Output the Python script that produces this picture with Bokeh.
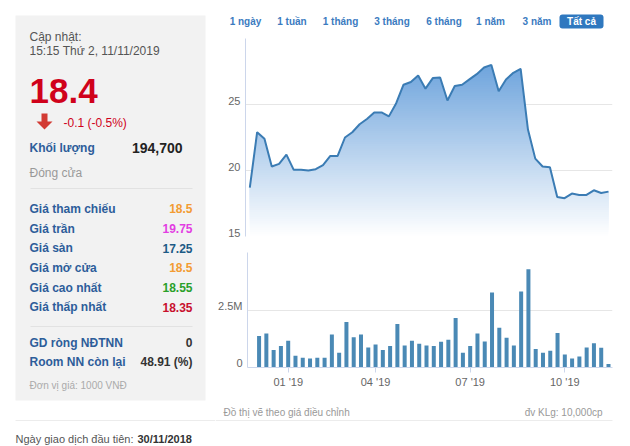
import numpy as np
from bokeh.plotting import figure
from bokeh.layouts import row, column
from bokeh.models import Range1d, FixedTicker, LinearAxis
from bokeh.embed import file_html
from bokeh.resources import INLINE
from bokeh.core.properties import value

FONT = "Liberation Sans"

# ---------------- data ----------------
weeks = list(range(50))
price = [18.7, 22.9, 22.4, 20.3, 20.5, 21.2, 20.05, 20.05, 20.0, 20.1,
         20.4, 21.1, 21.1, 22.5, 22.9, 23.5, 23.9, 24.4, 24.4, 24.1,
         25.1, 26.5, 26.7, 27.2, 26.2, 27.0, 27.05, 25.3, 26.4, 26.5,
         26.9, 27.3, 27.8, 28.0, 26.0, 26.9, 27.4, 27.7, 23.1, 20.9,
         20.3, 20.25, 18.0, 17.9, 18.25, 18.15, 18.15, 18.5, 18.3, 18.4]
volume = [0, 1370000, 1480000, 760000, 930000, 1160000, 510000, 420000, 390000, 420000,
          420000, 1440000, 640000, 1980000, 1320000, 1440000, 870000, 1000000, 760000, 930000,
          1890000, 960000, 1160000, 1030000, 960000, 930000, 1120000, 1210000, 2150000, 640000,
          930000, 1480000, 1130000, 3260000, 1730000, 1290000, 960000, 3300000, 4270000, 800000,
          640000, 730000, 1500000, 570000, 390000, 480000, 870000, 1050000, 860000, 150000]

x_tick_pos = [5, 17, 30, 43]
x_tick_labels = ["01 '19", "04 '19", "07 '19", "10 '19"]
price_ticks = [15, 20, 25, 30]
price_tick_labels = ["15", "20", "25", ""]
vol_ticks = [0, 2500000, 5000000]
vol_tick_labels = ["0", "2.5M", ""]

range_buttons = ["1 ngày", "1 tuần", "1 tháng", "3 tháng", "6 tháng", "1 năm", "3 năm", "Tất cả"]
stat_labels = ["Giá tham chiếu", "Giá trần", "Giá sàn", "Giá mở cửa", "Giá cao nhất", "Giá thấp nhất"]
stat_values = ["18.5", "19.75", "17.25", "18.5", "18.55", "18.35"]
foreign_labels = ["GD ròng NĐTNN", "Room NN còn lại"]
foreign_values = ["0", "48.91 (%)"]

# ---------------- styles ----------------
stat_colors = ["#f39c33", "#e23ee2", "#1d5b86", "#f39c33", "#2aa02a", "#c8102e"]
LABEL_BLUE = "#2d5d9a"
RED = "#d0021b"
AXIS_C = "#ccd6eb"
GRID_C = "#e6e6e6"


def canvas(w, h, x0, y0):
    f = figure(width=w, height=h, x_range=Range1d(x0, x0 + w), y_range=Range1d(y0 + h, y0),
               x_axis_type=None, y_axis_type=None, output_backend="svg",
               toolbar_location=None, min_border=0, frame_align=False)
    f.grid.visible = False
    f.outline_line_color = None
    f.background_fill_color = "white"
    return f


def txt(f, x, y, t, size="12px", color="#333", align="left", style="normal"):
    f.text(x=x, y=y, text=t, text_font=value(FONT), text_font_size=size,
           text_color=color, text_align=align, text_baseline="middle",
           text_font_style=style)


def style_axis(ax):
    ax.axis_line_color = AXIS_C
    ax.minor_tick_line_color = None
    ax.major_label_text_font = FONT
    ax.major_label_text_font_size = "11px"
    ax.major_label_text_color = "#666666"


def hide_axis(ax):
    # axis kept only to drive the horizontal grid lines
    ax.axis_line_color = None
    ax.major_tick_line_color = None
    ax.minor_tick_line_color = None
    ax.major_tick_out = 0
    ax.major_tick_in = 0
    ax.major_label_standoff = 0
    ax.major_label_text_font_size = "0px"
    ax.major_label_text_color = None


def clip_above(poly, a):
    """Sutherland-Hodgman clip of a polygon to the half plane y >= a."""
    out = []
    n = len(poly)
    for i in range(n):
        cx, cy = poly[i]
        px, py = poly[i - 1]
        c_in, p_in = cy >= a, py >= a
        if c_in != p_in:
            out.append((px + (a - py) * (cx - px) / (cy - py), a))
        if c_in:
            out.append((cx, cy))
    return out


# ---------------- left panel ----------------
left = canvas(215, 446, 0, 0)
left.quad(left=15, right=205, top=15, bottom=400, fill_color="#f2f2f2", line_color=None)
txt(left, [29], [36], ["Cập nhật:"], color="#555")
txt(left, [29], [50], ["15:15 Thứ 2, 11/11/2019"], color="#555")
txt(left, [29], [90], ["18.4"], size="35px", color=RED, style="bold")
left.patch(x=[41, 47, 47, 52, 44, 36, 41], y=[113, 113, 121, 121, 129, 121, 121],
           fill_color="#d23a33", line_color=None)
txt(left, [63], [122], ["-0.1 (-0.5%)"], color=RED)
txt(left, [29], [147], ["Khối lượng"], color=LABEL_BLUE, style="bold")
txt(left, [182], [147], ["194,700"], size="14px", color="#222", align="right", style="bold")
txt(left, [29], [172], ["Đóng cửa"], color="#999")
left.segment(x0=[30, 30], y0=[188, 326], x1=[192, 192], y1=[188, 326], line_color="#e2e2e2")
row_y = [208.3 + 19.7 * i for i in range(len(stat_labels))]
txt(left, [29] * len(stat_labels), row_y, stat_labels, color=LABEL_BLUE, style="bold")
for yy, v, c in zip(row_y, stat_values, stat_colors):
    txt(left, [192], [yy], [v], color=c, align="right", style="bold")
txt(left, [29, 29], [342, 361], foreign_labels, color=LABEL_BLUE, style="bold")
txt(left, [192, 192], [342, 361], foreign_values, color="#333", align="right", style="bold")
txt(left, [29], [385], ["Đơn vị giá: 1000 VNĐ"], size="10px", color="#aaa")
left.segment(x0=[15], y0=[420], x1=[215], y1=[420], line_color="#ececec")
txt(left, [15], [438], ["Ngày giao dịch đầu tiên: "], size="11px", color="#555")
txt(left, [137], [438], ["30/11/2018"], size="11px", color="#333", style="bold")

# ---------------- range buttons ----------------
btn = canvas(415, 33, 215, 0)
btn_x = [245, 291.5, 340, 391.5, 443.5, 490, 536.5, 581]
btn.rect(x=[581], y=[21], width=44, height=14, fill_color="#2f78bf", line_color=None,
         border_radius=3)
txt(btn, btn_x[:-1], [21] * 7, range_buttons[:-1], size="10px", color="#3b7bbf",
    align="center", style="bold")
txt(btn, [btn_x[-1]], [21], [range_buttons[-1]], size="10px", color="white",
    align="center", style="bold")

# ---------------- price chart ----------------
XR = (-0.59, 49.55)
P_LO, P_HI = 15, 30
p_shift = 4.0 / 198 * (P_HI - P_LO)      # tick labels sit a few px above their grid line
pf = figure(width=415, height=207, x_range=Range1d(*XR), y_range=Range1d(P_LO, P_HI),
            x_axis_location=None, y_axis_location="right", output_backend="svg",
            toolbar_location=None, frame_align=False,
            min_border_left=30, min_border_right=18, min_border_top=5, min_border_bottom=4)
pf.outline_line_color = None
pf.xgrid.visible = False
pf.yaxis.ticker = FixedTicker(ticks=price_ticks)
hide_axis(pf.yaxis[0])
pf.ygrid.grid_line_color = GRID_C
pf.ygrid.ticker = FixedTicker(ticks=price_ticks)
pf.extra_y_ranges = {"lbl": Range1d(P_LO - p_shift, P_HI - p_shift)}
p_axis = LinearAxis(y_range_name="lbl", ticker=FixedTicker(ticks=price_ticks),
                    major_label_overrides=dict(zip(price_ticks, price_tick_labels)),
                    major_tick_out=0, major_tick_in=0, major_tick_line_color=None,
                    major_label_standoff=5)
style_axis(p_axis)
pf.add_layout(p_axis, "left")

# vertical gradient fill under the price line: stacked clipped copies of the area
area_poly = [(weeks[0], P_LO)] + list(zip(weeks, price)) + [(weeks[-1], P_LO)]
c_top = np.array([88, 150, 215])
c_bot = np.array([255, 255, 255])
N_BANDS = 90
xs, ys, cols = [], [], []
for k in range(N_BANDS):
    a = P_LO + (P_HI - P_LO) * k / N_BANDS
    poly = clip_above(area_poly, a)
    if len(poly) < 3:
        continue
    tt = (k + 0.5) / N_BANDS
    c = (c_bot + (c_top - c_bot) * tt).round().astype(int)
    xs.append([q[0] for q in poly])
    ys.append([q[1] for q in poly])
    cols.append("#%02x%02x%02x" % tuple(c))
pf.patches(xs=xs, ys=ys, fill_color=cols, line_color=None)
pf.line(weeks, price, line_color="#3b7cb4", line_width=2)

# ---------------- volume chart ----------------
V_LO, V_HI = 0, 5000000
v_shift = 4.5 / 115 * (V_HI - V_LO)
vf = figure(width=415, height=155, x_range=Range1d(*XR), y_range=Range1d(V_LO, V_HI),
            y_axis_location="right", output_backend="svg", toolbar_location=None,
            frame_align=False,
            min_border_left=30, min_border_right=18, min_border_top=12, min_border_bottom=28)
vf.outline_line_color = None
vf.xgrid.visible = False
vf.yaxis.ticker = FixedTicker(ticks=vol_ticks)
hide_axis(vf.yaxis[0])
vf.ygrid.grid_line_color = GRID_C
vf.ygrid.ticker = FixedTicker(ticks=vol_ticks)
vf.extra_y_ranges = {"lbl": Range1d(V_LO - v_shift, V_HI - v_shift)}
v_axis = LinearAxis(y_range_name="lbl", ticker=FixedTicker(ticks=vol_ticks),
                    major_label_overrides=dict(zip(vol_ticks, vol_tick_labels)),
                    major_tick_out=0, major_tick_in=0, major_tick_line_color=None,
                    major_label_standoff=5)
style_axis(v_axis)
vf.add_layout(v_axis, "left")
vf.vbar(x=weeks, top=volume, width=0.55, fill_color="#4a89b5", line_color=None)
vf.xaxis.ticker = FixedTicker(ticks=x_tick_pos)
vf.xaxis.major_label_overrides = dict(zip(x_tick_pos, x_tick_labels))
vf.xaxis.major_tick_out = 5
vf.xaxis.major_tick_in = 0
vf.xaxis.major_tick_line_color = AXIS_C
vf.xaxis.major_label_standoff = 3
style_axis(vf.xaxis[0])

# ---------------- footer ----------------
foot = canvas(415, 51, 215, 395)
txt(foot, [223], [412], ["Đồ thị vẽ theo giá điều chỉnh"], size="10px", color="#999")
txt(foot, [602], [412], ["đv KLg: 10,000cp"], size="10px", color="#999", align="right")
foot.segment(x0=[215], y0=[420], x1=[612], y1=[420], line_color="#ececec")

layout = row(left, column(btn, pf, vf, foot, spacing=0), spacing=0)
open("out.html", "w").write(file_html(layout, INLINE))
